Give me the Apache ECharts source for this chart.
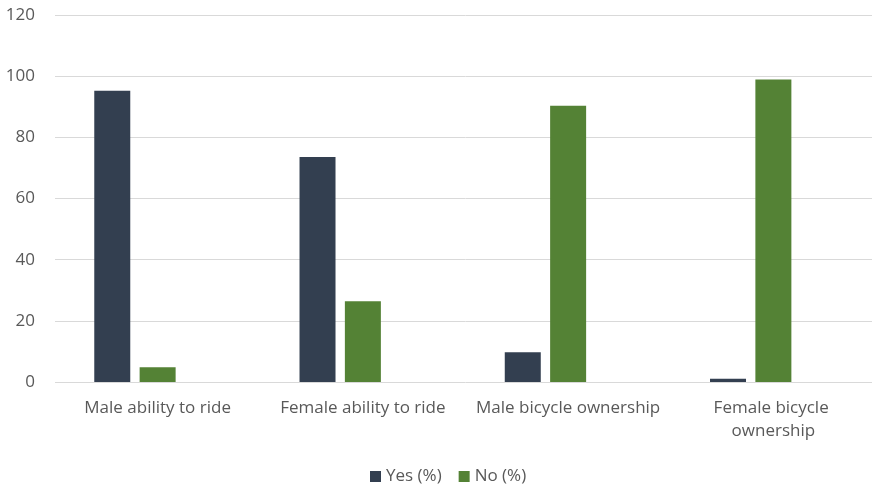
<!DOCTYPE html>
<html>
<head>
<meta charset="utf-8">
<style>
  html, body { margin: 0; padding: 0; background: #ffffff; overflow: hidden; }
  /* plot area runs a few pixels past the right edge of the window */
  #chart { width: 876px; height: 487px; }
</style>
<script src="https://cdn.jsdelivr.net/npm/echarts@6/dist/echarts.min.js"></script>
</head>
<body>
<div id="chart"></div>
<script>
// Categories and percentages
var categories = ['Male ability to ride', 'Female ability to ride', 'Male bicycle ownership', 'Female bicycle ownership'];
var yesValues = [95.2, 73.6, 9.7, 1.1];
var noValues = [4.8, 26.4, 90.3, 98.9];
// third cluster slot is left empty in each category
var spareValues = [null, null, null, null];
var yTicks = [0, 20, 40, 60, 80, 100, 120];

var textColor = '#595959';
var fontFamily = 'Open Sans, Noto Sans, sans-serif';

var chart = echarts.init(document.getElementById('chart'));
chart.setOption({
  animation: false,
  textStyle: { fontFamily: fontFamily },
  grid: { left: 55, right: 0, top: 15, bottom: 105, containLabel: false },
  legend: {
    data: ['Yes (%)', 'No (%)'],
    left: 365,
    top: 463,
    itemWidth: 11,
    itemHeight: 11,
    itemGap: 17,
    icon: 'rect',
    textStyle: { color: textColor, fontSize: 17, fontFamily: fontFamily, padding: [0, 0, 0, 0] }
  },
  xAxis: {
    type: 'category',
    data: categories,
    axisLine: { show: false },
    axisTick: { show: false },
    axisLabel: {
      color: textColor,
      fontSize: 17,
      margin: 15,
      lineHeight: 23,
      width: 196,
      overflow: 'break',
      interval: 0
    }
  },
  yAxis: {
    type: 'value',
    min: yTicks[0],
    max: yTicks[yTicks.length - 1],
    interval: 20,
    axisLine: { show: false },
    axisTick: { show: false },
    axisLabel: { color: textColor, fontSize: 17, margin: 20 },
    splitLine: { lineStyle: { color: '#D9D9D9', width: 1 } }
  },
  series: [
    {
      name: 'Yes (%)',
      type: 'bar',
      data: yesValues,
      barWidth: 36,
      barGap: '26%',
      itemStyle: { color: '#333F50' }
    },
    {
      name: 'No (%)',
      type: 'bar',
      data: noValues,
      barWidth: 36,
      barGap: '26%',
      itemStyle: { color: '#548235' }
    },
    {
      name: 'spare',
      type: 'bar',
      data: spareValues,
      barWidth: 36,
      barGap: '26%',
      itemStyle: { color: '#A5A5A5' }
    }
  ]
});
</script>
</body>
</html>
